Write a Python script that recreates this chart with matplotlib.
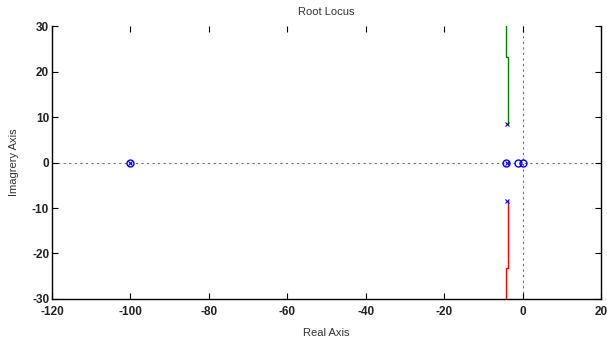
import matplotlib
matplotlib.use('Agg')
import matplotlib.pyplot as plt

plt.rcParams['font.family'] = ['Liberation Sans', 'DejaVu Sans']
plt.rcParams['axes.unicode_minus'] = False

# root locus data
upper_x = [-3.75, -3.75, -4.1, -4.1]
upper_y = [8.5, 23.2, 23.2, 30.0]
lower_x = [-3.75, -3.75, -4.1, -4.1]
lower_y = [-8.5, -23.2, -23.2, -30.0]

pole_re = [-3.9, -3.9, -4.0, -100.0]
pole_im = [8.5, -8.5, 0.0, 0.0]
zero_re = [-100.0, -4.2, -1.1, 0.0]
zero_im = [0.0, 0.0, 0.0, 0.0]

x_ticks = [-120, -100, -80, -60, -40, -20, 0, 20]
y_ticks = [-30, -20, -10, 0, 10, 20, 30]

fig = plt.figure(figsize=(6.07, 3.40), dpi=100)
ax = fig.add_axes([0.0857, 0.1206, 0.9043, 0.8029])

ax.axhline(0, color='#707070', ls=(0, (2, 3)), lw=0.8, zorder=1)
ax.axvline(0, color='#707070', ls=(0, (2, 3)), lw=0.8, zorder=1)

ax.plot(upper_x, upper_y, color='#008000', lw=1.0, zorder=2)
ax.plot(lower_x, lower_y, color='#ff0000', lw=1.0, zorder=2)

ax.plot(pole_re, pole_im, 'x', color='#0000ff', ms=3.5, mew=0.8, ls='none', zorder=3)
ax.plot(zero_re, zero_im, 'o', mfc='none', mec='#0000ff', ms=5, mew=1.0, ls='none', zorder=3)

ax.set_xlim(-120, 20)
ax.set_ylim(-30, 30)
ax.set_xticks(x_ticks)
ax.set_yticks(y_ticks)
ax.tick_params(direction='in', length=4, width=0.8, labelsize=8.5,
               top=True, right=True)
ax.tick_params(axis='x', pad=5)
ax.tick_params(axis='y', pad=2)
for lab in ax.get_xticklabels() + ax.get_yticklabels():
    lab.set_fontweight('bold')
    lab.set_color('#222222')

ax.spines['top'].set_visible(False)
for s in ['left', 'right', 'bottom']:
    ax.spines[s].set_linewidth(1.0)

ax.set_title('Root Locus', fontsize=8, pad=8, color='#333333')
ax.set_xlabel('Real Axis', fontsize=8, labelpad=7, color='#333333')
ax.set_ylabel('Imagrery Axis', fontsize=8, labelpad=9, color='#333333')

fig.savefig('out.png', dpi=100, facecolor='white')
